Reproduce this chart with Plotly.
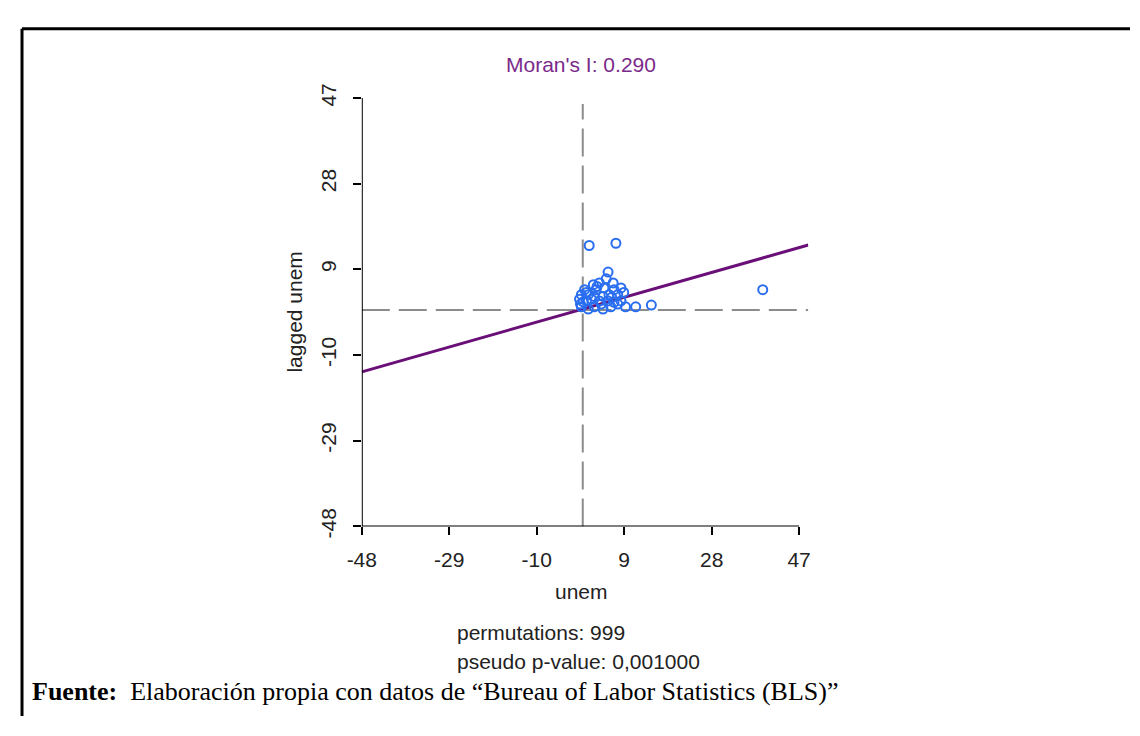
import plotly.graph_objects as go

# page body has an 8px margin, so the figure is made 16px smaller and shifted
OFF = 8
W, H = 1140 - 2 * OFF, 736 - 2 * OFF

# ---- data ----
unem = [1.4, 7.2, 5.5, 5.1, 3.6, 6.6, 2.3, 8.3, 0.4, 4.6, 6.8, -0.3, 1.2, 2.5, 4.4,
        5.7, 7.6, 8.9, -0.7, 0.8, 1.9, 3.6, 5.5, 6.8, 8.3, -0.3, 1.2, 2.5, 4.4, 6.1,
        9.3, 11.5, 14.9, 39.1, -0.5, 2.9, 0.8, 7.6, 4.0, 3.1, 6.3, 0.1]
lagged_unem = [14.3, 14.8, 8.4, 6.9, 6.0, 6.0, 5.6, 4.9, 4.5, 4.9, 4.5, 3.4, 3.4, 3.0, 3.0,
               3.4, 3.4, 3.9, 2.4, 2.0, 2.4, 2.0, 2.0, 1.7, 2.0, 0.7, 0.2, 0.7, 0.2, 0.7,
               0.7, 0.7, 1.1, 4.5, 1.3, 4.5, 3.9, 1.3, 1.3, 5.2, 2.8, 1.8]
tick_vals = [-48, -29, -10, 9, 28, 47]
moran_i = 0.290
intercept = 0.2
reg_x = [-48, 49]
permutations = 999
p_value = "0,001000"

# ---- geometry (reference page pixels) ----
px_per_unit = 4.674
x_left_px, y_top_px, y_bot_px = 352, 86, 531
x_range = [-48, 49]
x_right_px = x_left_px + (x_range[1] - x_range[0]) * px_per_unit


def px(v):
    return (v - OFF) / W


def py(v):
    return 1 - (v - OFF) / H


reg_y = [intercept + moran_i * x for x in reg_x]

fig = go.Figure()

fig.add_trace(go.Scatter(
    x=reg_x, y=reg_y, mode="lines",
    line=dict(color="#6a0f78", width=3), hoverinfo="skip", showlegend=False))

fig.add_trace(go.Scatter(
    x=unem, y=lagged_unem, mode="markers",
    marker=dict(symbol="circle-open", size=9, color="#2a6ef0",
                line=dict(width=2, color="#2a6ef0")),
    showlegend=False))

FS = 21
axis_font = dict(family="Liberation Sans, Arial", size=FS, color="#222222")

fig.update_layout(
    width=W, height=H,
    margin=dict(l=0, r=0, t=0, b=0),
    paper_bgcolor="white", plot_bgcolor="white",
    xaxis=dict(domain=[px(x_left_px), px(x_right_px)], range=x_range,
               tickvals=tick_vals, ticktext=[str(t) for t in tick_vals],
               ticks="outside", ticklen=8, tickwidth=2, tickcolor="black",
               ticklabelstandoff=6,
               showline=False, showgrid=False, zeroline=False,
               tickfont=axis_font),
    yaxis=dict(domain=[py(y_bot_px), py(y_top_px)], range=[-48, 47],
               tickvals=tick_vals, ticktext=[str(t) for t in tick_vals],
               ticks="outside", ticklen=8, tickwidth=2, tickcolor="black",
               tickangle=-90, ticklabelstandoff=8,
               showline=False, showgrid=False, zeroline=False,
               tickfont=axis_font),
)

shapes = []
# mean reference lines (dashed)
shapes.append(dict(type="line", xref="x", yref="y", x0=0, x1=0, y0=-48, y1=45.7,
                   line=dict(color="#8c8c8c", width=2, dash="28px,9px"), layer="below"))
shapes.append(dict(type="line", xref="x", yref="y", x0=-48, x1=49, y0=0, y1=0,
                   line=dict(color="#8c8c8c", width=2, dash="28px,9px"), layer="below"))
# axis lines
shapes.append(dict(type="line", xref="x", yref="y", x0=-48, x1=47, y0=-48, y1=-48,
                   line=dict(color="black", width=2)))
shapes.append(dict(type="line", xref="x", yref="y", x0=-48, x1=-48, y0=-48, y1=47,
                   line=dict(color="black", width=2)))
# outer frame (top and left edges)
shapes.append(dict(type="line", xref="paper", yref="paper", x0=px(7), x1=1, y0=py(14), y1=py(14),
                   line=dict(color="black", width=3)))
shapes.append(dict(type="line", xref="paper", yref="paper", x0=px(7), x1=px(7), y0=py(14), y1=0,
                   line=dict(color="black", width=3)))
fig.update_layout(shapes=shapes)

ann = []
ann.append(dict(text=f"Moran's I: {moran_i:.3f}", xref="paper", yref="paper",
                x=px(575), y=py(51), showarrow=False, xanchor="center", yanchor="middle",
                font=dict(family="Liberation Sans, Arial", size=FS, color="#7a2a8a")))
ann.append(dict(text="unem", xref="paper", yref="paper",
                x=px(575), y=py(599), showarrow=False, xanchor="center", yanchor="middle",
                font=axis_font))
ann.append(dict(text="lagged unem", xref="paper", yref="paper", textangle=-90,
                x=px(284), y=py(308), showarrow=False, xanchor="center", yanchor="middle",
                font=axis_font))
ann.append(dict(text=f"permutations: {permutations}", xref="paper", yref="paper",
                x=px(447), y=py(641), showarrow=False, xanchor="left", yanchor="middle",
                font=axis_font))
ann.append(dict(text=f"pseudo p-value: {p_value}", xref="paper", yref="paper",
                x=px(447), y=py(671), showarrow=False, xanchor="left", yanchor="middle",
                font=axis_font))
ann.append(dict(text="<b>Fuente:</b>  Elaboración propia con datos de “Bureau of Labor Statistics (BLS)”",
                xref="paper", yref="paper",
                x=px(15), y=py(703), showarrow=False, xanchor="left", yanchor="middle",
                font=dict(family="Liberation Serif, Times New Roman", size=26, color="black")))
fig.update_layout(annotations=ann)

fig.write_html("out.html")
